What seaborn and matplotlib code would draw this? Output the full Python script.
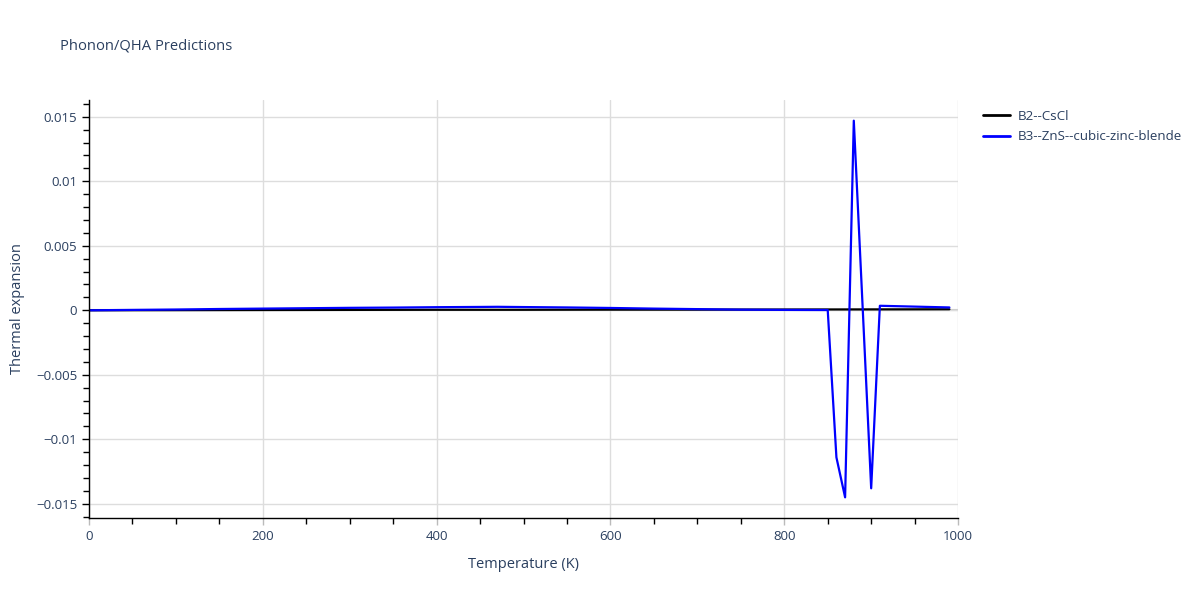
import matplotlib
matplotlib.use("Agg")
import matplotlib.pyplot as plt
from matplotlib.ticker import MultipleLocator, FuncFormatter
import pandas as pd
import seaborn as sns

# Data
temp_b2 = [0, 100, 200, 300, 400, 500, 600, 700, 800, 900, 990]
alpha_b2 = [0.0, 0.00001, 0.00002, 0.00003, 0.00004, 0.00004, 0.00005, 0.00005, 0.00006, 0.00007, 0.00008]

temp_b3 = [0, 50, 100, 150, 200, 250, 300, 350, 400, 450, 470, 500, 550, 600, 650, 700,
           750, 800, 850, 860, 870, 880, 890, 900, 910, 990]
alpha_b3 = [0.0, 0.00003, 0.00006, 0.0001, 0.00013, 0.00016, 0.00019, 0.00021, 0.00024,
            0.00026, 0.00027, 0.00025, 0.00022, 0.00018, 0.00013, 0.00009, 0.00005,
            0.00003, 0.00002, -0.0114, -0.0145, 0.0147, 0.0005, -0.0138, 0.00035, 0.00022]

names = ["B2--CsCl", "B3--ZnS--cubic-zinc-blende"]
colors = ["black", "blue"]

df = pd.concat([
    pd.DataFrame({"T": temp_b2, "alpha": alpha_b2, "phase": names[0]}),
    pd.DataFrame({"T": temp_b3, "alpha": alpha_b3, "phase": names[1]}),
])

sns.set_style("white")
plt.rcParams['font.family'] = ['Open Sans', 'DejaVu Sans']
text_col = '#2a3f5f'

fig = plt.figure(figsize=(12, 6), dpi=100)
ax = fig.add_axes([0.0742, 0.1367, 0.7242, 0.6966])

sns.lineplot(data=df, x="T", y="alpha", hue="phase", palette=dict(zip(names, colors)),
             linewidth=1.6, ax=ax, sort=False, estimator=None)

ax.set_xlim(0, 1000)
ax.set_ylim(-0.0161, 0.0163)
ax.xaxis.set_major_locator(MultipleLocator(200))
ax.xaxis.set_minor_locator(MultipleLocator(50))
ax.yaxis.set_major_locator(MultipleLocator(0.005))
ax.yaxis.set_minor_locator(MultipleLocator(0.001))

def fmt(v, pos):
    if abs(v) < 1e-12:
        return "0"
    s = f"{v:.3f}".rstrip("0")
    return s.replace("-", "\u2212")

ax.yaxis.set_major_formatter(FuncFormatter(fmt))

ax.grid(True, which="major", color="#dddddd", linewidth=1)
ax.axhline(0, color="#cccccc", linewidth=1.5, zorder=0)
for s in ["top", "right"]:
    ax.spines[s].set_visible(False)
for s in ["left", "bottom"]:
    ax.spines[s].set_color("black")
    ax.spines[s].set_linewidth(1)
ax.tick_params(which="major", direction="out", length=5, color="black", width=1,
               labelsize=9.5, labelcolor=text_col, left=True, bottom=True)
ax.tick_params(axis="x", which="major", color="#bbbbbb")
ax.tick_params(which="minor", direction="out", length=4, color="black", width=1,
               left=True, bottom=True)

ax.set_xlabel("Temperature (K)", fontsize=10.5, color=text_col, labelpad=10)
ax.set_ylabel("Thermal expansion", fontsize=10.5, color=text_col, labelpad=8)
fig.text(0.05, 0.923, "Phonon/QHA Predictions", fontsize=10.6, color=text_col, va="center")

leg = ax.legend(loc="upper left", bbox_to_anchor=(1.015, 1.005), frameon=False,
                fontsize=9.6, handlelength=2.0, handletextpad=0.6, labelspacing=0.55,
                labelcolor=text_col)
for line in leg.get_lines():
    line.set_linewidth(2)

fig.savefig("out.png", dpi=100)
